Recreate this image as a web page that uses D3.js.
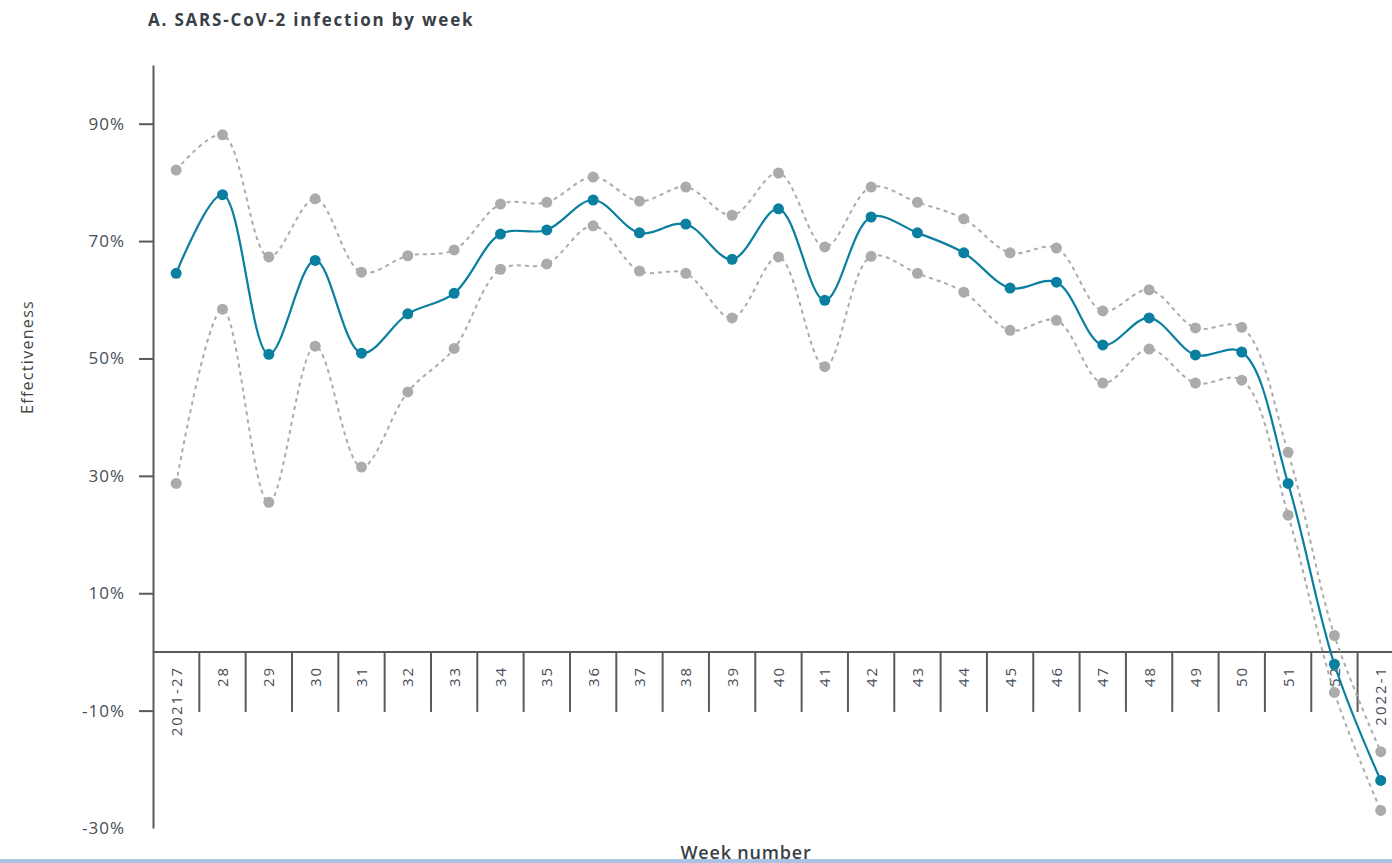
<!DOCTYPE html>
<html>
<head>
<meta charset="utf-8">
<script src="https://cdn.jsdelivr.net/npm/d3@7"></script>
<style>
  html, body { margin: 0; padding: 0; background: #fff; }
  svg { display: block; font-family: "Open Sans", "DejaVu Sans", sans-serif; }
</style>
</head>
<body>
<svg id="chart" width="1392" height="863"></svg>
<script>
// Week categories along the x axis
const weeks = ["2021-27", "28", "29", "30", "31", "32", "33", "34", "35", "36", "37", "38", "39",
  "40", "41", "42", "43", "44", "45", "46", "47", "48", "49", "50", "51", "52", "2022-1"];

// Vaccine effectiveness estimate (%) per week
const estimate = [64.5, 77.9, 50.7, 66.7, 50.9, 57.6, 61.1, 71.2, 71.9, 77.0, 71.4, 72.9, 66.9,
  75.5, 59.9, 74.1, 71.4, 68.0, 62.0, 63.0, 52.3, 56.9, 50.6, 51.1, 28.7, -2.1, -21.9];

// Upper bound of the 95% confidence interval (%)
const upper = [82.1, 88.1, 67.3, 77.2, 64.7, 67.5, 68.5, 76.3, 76.6, 80.9, 76.8, 79.2, 74.4,
  81.6, 69.0, 79.2, 76.6, 73.8, 68.0, 68.8, 58.1, 61.7, 55.2, 55.3, 34.0, 2.8, -17.0];

// Lower bound of the 95% confidence interval (%)
const lower = [28.7, 58.4, 25.5, 52.1, 31.5, 44.3, 51.7, 65.2, 66.1, 72.6, 64.9, 64.5, 56.9,
  67.3, 48.6, 67.4, 64.5, 61.3, 54.8, 56.5, 45.8, 51.6, 45.8, 46.3, 23.3, -6.9, -27.0];

// Labelled y ticks
const yTicks = [90, 70, 50, 30, 10, -10, -30];

const svg = d3.select("#chart");

const axisX = 153;
const x = d3.scaleBand().domain(weeks).range([axisX, axisX + 46.33 * weeks.length]);
const y = d3.scaleLinear().domain([-30, 100]).range([828, 65]);
const cx = d => x(d) + x.bandwidth() / 2;

const textColor = "#474e5a";
const axisColor = "#5a5a5a";

// Title
svg.append("text")
  .attr("x", 148).attr("y", 26)
  .attr("font-size", 17).attr("font-weight", 700)
  .attr("letter-spacing", 1.8)
  .attr("fill", "#3a3f47")
  .text("A. SARS-CoV-2 infection by week");

// Y axis
const yAxis = d3.axisLeft(y)
  .tickValues(yTicks)
  .tickSize(14)
  .tickSizeOuter(0)
  .tickPadding(14)
  .tickFormat(d => d + "%");

const gy = svg.append("g").attr("transform", `translate(${axisX},0)`).call(yAxis);
gy.select(".domain").attr("stroke", axisColor).attr("stroke-width", 2);
gy.selectAll(".tick line").attr("stroke", axisColor).attr("stroke-width", 2)
  .attr("display", d => d === -30 ? "none" : null);
gy.selectAll(".tick text")
  .attr("font-size", 17).attr("fill", textColor)
  .attr("letter-spacing", 1)
  .attr("font-family", "'Open Sans', sans-serif");

// Y axis title
svg.append("text")
  .attr("transform", "translate(33,357) rotate(-90)")
  .attr("text-anchor", "middle")
  .attr("font-size", 16).attr("fill", "#444")
  .attr("letter-spacing", 1.3)
  .text("Effectiveness");

// Category axis drawn at the zero line, with dividers between the weeks
const zeroY = y(0);
svg.append("line")
  .attr("x1", axisX).attr("x2", 1392)
  .attr("y1", zeroY).attr("y2", zeroY)
  .attr("stroke", axisColor).attr("stroke-width", 2);

svg.append("g").selectAll("line")
  .data(weeks.slice(1))
  .join("line")
  .attr("x1", d => x(d)).attr("x2", d => x(d))
  .attr("y1", zeroY).attr("y2", zeroY + 60)
  .attr("stroke", axisColor).attr("stroke-width", 2);

svg.append("g").selectAll("text")
  .data(weeks)
  .join("text")
  .attr("transform", d => `translate(${cx(d) + 5.5},${zeroY + 14}) rotate(-90)`)
  .attr("text-anchor", "end")
  .attr("font-size", 15).attr("fill", textColor)
  .attr("letter-spacing", 2)
  .text(d => d);

// X axis title
svg.append("text")
  .attr("x", 746).attr("y", 859)
  .attr("text-anchor", "middle")
  .attr("font-size", 18).attr("font-weight", 600)
  .attr("letter-spacing", 0.8)
  .attr("fill", "#3a3f47")
  .text("Week number");

// Lines
const line = d3.line()
  .x((d, i) => cx(weeks[i]))
  .y(d => y(d))
  .curve(d3.curveCatmullRom.alpha(0.5));

const ciColor = "#ababab";
const estColor = "#0a7fa0";

[upper, lower].forEach(series => {
  svg.append("path")
    .datum(series)
    .attr("d", line)
    .attr("fill", "none")
    .attr("stroke", ciColor)
    .attr("stroke-width", 2)
    .attr("stroke-dasharray", "4,4");
  svg.append("g").selectAll("circle")
    .data(series)
    .join("circle")
    .attr("cx", (d, i) => cx(weeks[i]))
    .attr("cy", d => y(d))
    .attr("r", 5.5)
    .attr("fill", ciColor);
});

svg.append("path")
  .datum(estimate)
  .attr("d", line)
  .attr("fill", "none")
  .attr("stroke", estColor)
  .attr("stroke-width", 2.2);

svg.append("g").selectAll("circle")
  .data(estimate)
  .join("circle")
  .attr("cx", (d, i) => cx(weeks[i]))
  .attr("cy", d => y(d))
  .attr("r", 5.5)
  .attr("fill", estColor);

// Bottom rule
svg.append("rect")
  .attr("x", 0).attr("y", 859).attr("width", 1392).attr("height", 4)
  .attr("fill", "#a9c3e4");
</script>
</body>
</html>
